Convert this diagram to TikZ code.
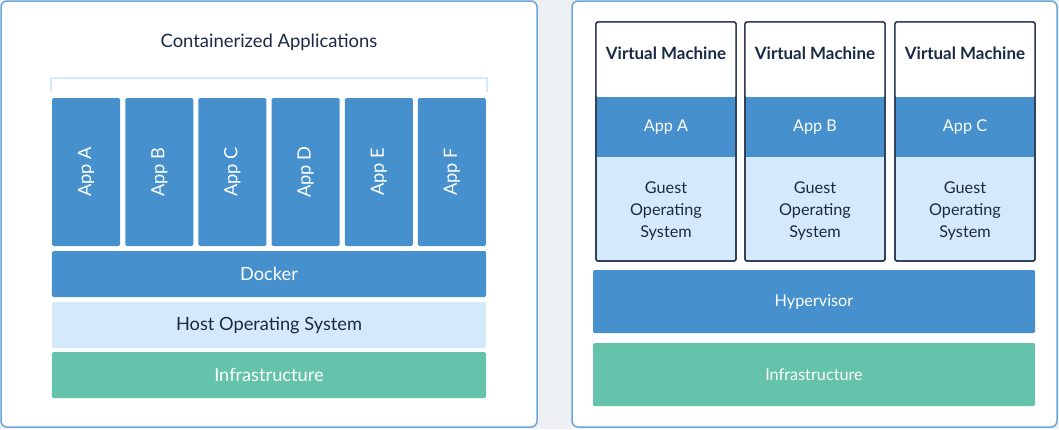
\documentclass[tikz,border=0pt]{standalone}
\usepackage{fontspec}
\setmainfont{Lato}
\definecolor{appblue}{HTML}{4590CD}
\definecolor{oslight}{HTML}{D4E9F9}
\definecolor{infragreen}{HTML}{64C3AA}
\definecolor{inknavy}{HTML}{1B2A44}
\definecolor{panelline}{HTML}{6CA5DA}
\definecolor{pagegray}{HTML}{EEF1F4}
\tikzset{
  panel/.style={draw=panelline, line width=1.5bp, fill=white, rounded corners=6bp},
  layer/.style={rounded corners=1.5bp, inner sep=0pt, minimum width=434bp, minimum height=46bp, font=\fontsize{18.3}{22}\selectfont},
  appbox/.style={layer, fill=appblue, text=white, rotate=90, minimum width=148bp, minimum height=68bp},
  vmbox/.style={draw=inknavy, line width=1.3bp, rounded corners=2bp, inner sep=0pt, minimum width=140bp, minimum height=239bp},
  band/.style={inner sep=0pt, minimum width=138.7bp, font=\fontsize{16.3}{22}\selectfont},
  vmlayer/.style={layer, minimum width=442bp, minimum height=63bp, font=\fontsize{16.3}{20}\selectfont},
}
\begin{document}
\begin{tikzpicture}[x=1bp,y=-1bp]
  \fill[pagegray] (0,0) rectangle (1059,429);
  \useasboundingbox (0,0) rectangle (1059,429);
  % containers
  \draw[panel] (1,1) rectangle (537,427);
  \node[text=inknavy, font=\fontsize{18.5}{22}\selectfont] (title) at (269,42) {Containerized Applications};
  \draw[oslight, line width=2.5bp] (51,92) -- (51,78) -- (487,78) -- (487,92);
  \node[appbox] (appA) at (86.1,172) {App A};
  \node[appbox] (appB) at (159.3,172) {App B};
  \node[appbox] (appC) at (232.4,172) {App C};
  \node[appbox] (appD) at (305.6,172) {App D};
  \node[appbox] (appE) at (378.8,172) {App E};
  \node[appbox] (appF) at (451.9,172) {App F};
  \node[layer, fill=appblue, text=white] (docker) at (269,274) {Docker};
  \node[layer, fill=oslight, text=inknavy] (hostos) at (269,325) {Host Operating System};
  \node[layer, fill=infragreen, text=white] (infraL) at (269,375) {Infrastructure};
  % virtual machines
  \draw[panel] (572,1) rectangle (1057,427);
  \node[vmbox, fill=oslight] (vm1) at (666,141.5) {};
  \node[vmbox, fill=oslight] (vm2) at (815,141.5) {};
  \node[vmbox, fill=oslight] (vm3) at (965,141.5) {};
  \fill[white, rounded corners=1.5bp] ([shift={(0.7,0.7)}]vm1.north west) rectangle ([xshift=-0.7bp]vm1.east |- 0,97);
  \fill[white, rounded corners=1.5bp] ([shift={(0.7,0.7)}]vm2.north west) rectangle ([xshift=-0.7bp]vm2.east |- 0,97);
  \fill[white, rounded corners=1.5bp] ([shift={(0.7,0.7)}]vm3.north west) rectangle ([xshift=-0.7bp]vm3.east |- 0,97);
  \node[text=inknavy, font=\fontsize{17}{20}\selectfont\bfseries] (vmt1) at (666,53) {Virtual Machine};
  \node[text=inknavy, font=\fontsize{17}{20}\selectfont\bfseries] (vmt2) at (815,53) {Virtual Machine};
  \node[text=inknavy, font=\fontsize{17}{20}\selectfont\bfseries] (vmt3) at (965,53) {Virtual Machine};
  \node[band, fill=appblue, text=white, minimum height=60bp] (vmapp1) at (666,127) {App A};
  \node[band, fill=appblue, text=white, minimum height=60bp] (vmapp2) at (815,127) {App B};
  \node[band, fill=appblue, text=white, minimum height=60bp] (vmapp3) at (965,127) {App C};
  \node[band, text=inknavy, align=center] (guest1) at (666,211) {Guest\\Operating\\System};
  \node[band, text=inknavy, align=center] (guest2) at (815,211) {Guest\\Operating\\System};
  \node[band, text=inknavy, align=center] (guest3) at (965,211) {Guest\\Operating\\System};
  \node[vmbox] at (vm1) {};
  \node[vmbox] at (vm2) {};
  \node[vmbox] at (vm3) {};
  \node[vmlayer, fill=appblue, text=white] (hyper) at (814,301.5) {Hypervisor};
  \node[vmlayer, fill=infragreen, text=white] (infraR) at (814,374.5) {Infrastructure};
\end{tikzpicture}
\end{document}
